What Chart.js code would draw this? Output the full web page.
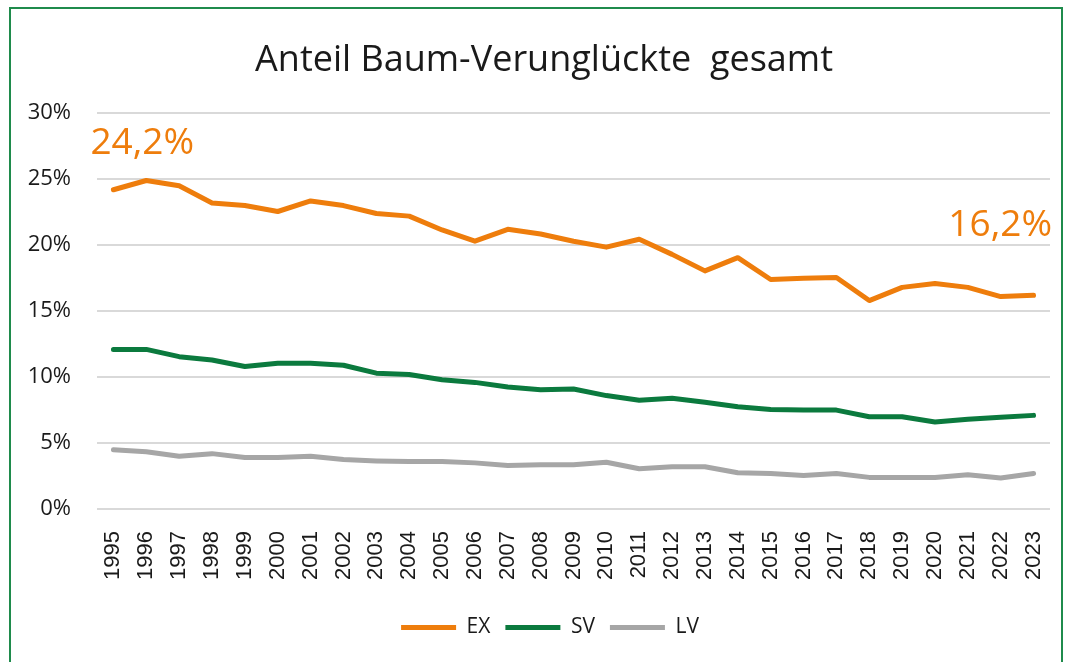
<!DOCTYPE html>
<html>
<head>
<meta charset="utf-8">
<script src="https://cdn.jsdelivr.net/npm/chart.js@4/dist/chart.umd.min.js"></script>
<style>
  body { margin: 0; background: #fff; }
  #frame { position: absolute; left: 9px; top: 7px; width: 1054px; height: 700px; border: 2px solid #1f8b4c; box-sizing: border-box; }
  #c { position: absolute; left: 0; top: 0; }
</style>
</head>
<body>
<div id="frame"></div>
<canvas id="c" width="1066" height="662"></canvas>
<script>
const years = ["1995", "1996", "1997", "1998", "1999", "2000", "2001", "2002", "2003", "2004",
  "2005", "2006", "2007", "2008", "2009", "2010", "2011", "2012", "2013", "2014",
  "2015", "2016", "2017", "2018", "2019", "2020", "2021", "2022", "2023"];

const ex = [24.2, 24.9, 24.5, 23.2, 23.0, 22.55, 23.35, 23.0, 22.4, 22.2,
  21.15, 20.3, 21.2, 20.85, 20.3, 19.85, 20.45, 19.3, 18.05, 19.05,
  17.4, 17.5, 17.55, 15.8, 16.8, 17.1, 16.8, 16.1, 16.2];
const sv = [12.1, 12.1, 11.55, 11.3, 10.8, 11.05, 11.05, 10.9, 10.3, 10.2,
  9.8, 9.6, 9.25, 9.05, 9.1, 8.6, 8.25, 8.4, 8.1, 7.75,
  7.55, 7.5, 7.5, 7.0, 7.0, 6.6, 6.8, 6.95, 7.1];
const lv = [4.5, 4.35, 4.0, 4.2, 3.9, 3.9, 4.0, 3.75, 3.65, 3.6,
  3.6, 3.5, 3.3, 3.35, 3.35, 3.55, 3.05, 3.2, 3.2, 2.75,
  2.7, 2.55, 2.7, 2.4, 2.4, 2.4, 2.6, 2.35, 2.7];

// first and last EX value get a big label
const calloutIndex = [0, 28];

const ORANGE = "#ee7d0c";
const GREEN = "#0b7a3e";
const GREY = "#a6a6a6";

const fmt = (v) => v.toFixed(1).replace(".", ",") + "%";

const calloutPlugin = {
  id: "callouts",
  afterLayout(chart) {
    // title and legend sit a bit right of the canvas centre in the original
    chart.titleBlock.left = 38;
    chart.legend.left = 50;
  },
  afterDatasetsDraw(chart) {
    const { ctx, chartArea } = chart;
    const meta = chart.getDatasetMeta(0);
    ctx.save();
    ctx.font = "37px 'Open Sans'";
    ctx.fillStyle = ORANGE;
    ctx.textBaseline = "alphabetic";
    calloutIndex.forEach((i, n) => {
      const pt = meta.data[i];
      if (n === 0) {
        ctx.textAlign = "left";
        ctx.fillText(fmt(ex[i]), pt.x - 23, pt.y - 36);
      } else {
        ctx.textAlign = "right";
        ctx.fillText(fmt(ex[i]), chartArea.right + 2, pt.y - 59);
      }
    });
    ctx.restore();
  },
};

const line = (label, data, color) => ({
  label,
  data,
  borderColor: color,
  backgroundColor: color,
  borderWidth: 5,
  borderCapStyle: "round",
  borderJoinStyle: "round",
  pointRadius: 0,
  tension: 0,
});

new Chart(document.getElementById("c"), {
  type: "line",
  data: {
    labels: years,
    datasets: [line("EX", ex, ORANGE), line("SV", sv, GREEN), line("LV", lv, GREY)],
  },
  options: {
    responsive: false,
    animation: false,
    layout: { padding: { left: 0, right: 16, top: 0, bottom: 14 } },
    plugins: {
      title: {
        display: true,
        text: "Anteil Baum-Verunglückte  gesamt",
        color: "#1a1a1a",
        font: { family: "'Open Sans'", size: 36, weight: "normal" },
        padding: { top: 39, bottom: 31 },
      },
      legend: {
        position: "bottom",
        labels: {
          color: "#1a1a1a",
          font: { family: "'Open Sans'", size: 21 },
          usePointStyle: true,
          pointStyle: "line",
          pointStyleWidth: 55,
          boxHeight: 20,
          padding: 15,
        },
      },
      tooltip: { enabled: false },
    },
    scales: {
      x: {
        offset: true,
        afterFit(scale) {
          scale.paddingLeft = 0;
          scale.paddingRight = 0;
        },
        grid: { display: false, drawTicks: false },
        border: { display: false },
        ticks: {
          color: "#1a1a1a",
          font: { family: "'Liberation Sans'", size: 22 },
          minRotation: 90,
          maxRotation: 90,
          padding: 22,
          autoSkip: false,
        },
      },
      y: {
        min: 0,
        max: 30,
        afterFit(scale) { scale.width = 97; },
        grid: { color: "#d9d9d9", lineWidth: 2, drawTicks: false },
        border: { display: false },
        ticks: {
          stepSize: 5,
          padding: 26,
          color: "#1a1a1a",
          font: { family: "'Open Sans'", size: 22 },
          callback: (v) => v + "%",
        },
      },
    },
  },
  plugins: [calloutPlugin],
});
</script>
</body>
</html>
